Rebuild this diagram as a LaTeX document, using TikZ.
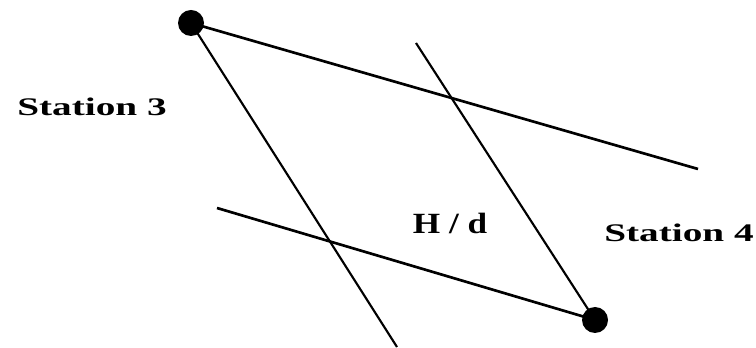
\documentclass[tikz,border=0pt]{standalone}
\usepackage{fontspec}
\setmainfont{Liberation Serif}
\newfontfamily\stationfont[FakeStretch=1.55]{Liberation Serif}
\newfontfamily\ratiofont[FakeStretch=1.2]{Liberation Serif}

\begin{document}
\begin{tikzpicture}[x=0.75pt,y=-0.75pt]
  % --- PARAMETERS (pixel units) ---
  \pgfmathsetmacro{\thickW}{2.0}   % width of the two long lines
  \pgfmathsetmacro{\thinW}{1.6}    % width of the two steep lines

  \tikzset{
    stationdot/.style={circle, fill=black, inner sep=0pt, minimum size=19.5pt},
    thickline/.style={line width=\thickW pt},
    thinline/.style={line width=\thinW pt},
    lbl/.style={font=\fontsize{19}{19}\selectfont\stationfont\bfseries, inner sep=0pt, anchor=base},
    biglbl/.style={font=\fontsize{22}{22}\selectfont\ratiofont\bfseries, inner sep=0pt, anchor=base},
  }

  \useasboundingbox (0,0) rectangle (756,348);

  % Stations
  \node[stationdot] (s3) at (191,23) {};
  \node[stationdot] (s4) at (595,320) {};

  % Free line ends
  \coordinate (eastEnd)  at (698,169);
  \coordinate (southEnd) at (397,347);
  \coordinate (westEnd)  at (217,208);
  \coordinate (northEnd) at (416,43);

  % Lines
  \draw[thickline] (s3.center) -- (eastEnd);
  \draw[thinline]  (s3.center) -- (southEnd);
  \draw[thickline] (westEnd) -- (s4.center);
  \draw[thinline]  (northEnd) -- (s4.center);

  % Labels
  \node[lbl] (lab3) at (92,116) {Station 3};
  \node[lbl] (lab4) at (679,242) {Station 4};
  \node[biglbl] (ratio) at (450,234) {H / d};
\end{tikzpicture}
\end{document}
